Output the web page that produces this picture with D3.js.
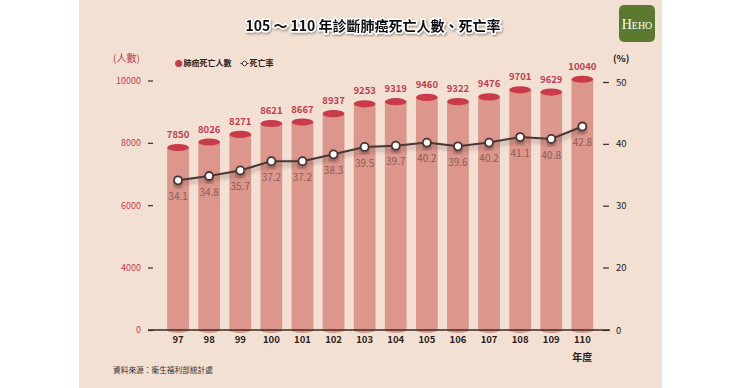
<!DOCTYPE html>
<html>
<head>
<meta charset="utf-8">
<script src="https://cdn.jsdelivr.net/npm/d3@7"></script>
<style>
    body { margin: 0; background: #ffffff; }
    svg { display: block; }
</style>
</head>
<body>
<div id="chart"></div>
<script>
const years = ['97', '98', '99', '100', '101', '102', '103', '104', '105', '106', '107', '108', '109', '110']
const deaths = [7850, 8026, 8271, 8621, 8667, 8937, 9253, 9319, 9460, 9322, 9476, 9701, 9629, 10040]
const rates = [34.1, 34.8, 35.7, 37.2, 37.2, 38.3, 39.5, 39.7, 40.2, 39.6, 40.2, 41.1, 40.8, 42.8]
const deathTicks = [0, 4000, 6000, 8000, 10000]
const rateTicks = [0, 20, 30, 40, 50]

document.addEventListener('DOMContentLoaded', () => {
    draw()
});

function draw() {
    const width = 740
    const height = 388
    const font = '"Noto Sans CJK TC", "Noto Sans", sans-serif'
    const bodyColour = '#dc968b'
    const capColour = '#c93a4b'
    const redText = '#c23c50'
    const lineColour = '#4a3630'

    const svg = d3.select('#chart')
        .append('svg')
        .attr('width', width)
        .attr('height', height)
        .attr('font-family', font)
    const defs = svg.append('defs')

    const shadow = defs.append('filter')
        .attr('id', 'lineShadow')
        .attr('x', '-10%').attr('y', '-50%')
        .attr('width', '120%').attr('height', '200%')
    shadow.append('feDropShadow')
        .attr('dx', 0).attr('dy', 3)
        .attr('stdDeviation', 2)
        .attr('flood-color', '#3a2020')
        .attr('flood-opacity', 0.45)

    const titleShadow = defs.append('filter').attr('id', 'titleShadow')
    titleShadow.append('feDropShadow')
        .attr('dx', 1).attr('dy', 1.5)
        .attr('stdDeviation', 1)
        .attr('flood-color', '#000')
        .attr('flood-opacity', 0.35)

    // background panel
    svg.append('rect')
        .attr('x', 79).attr('y', 0)
        .attr('width', 583).attr('height', height)
        .attr('fill', '#f2e0d2')

    // Scales (axis is broken below 4000 / 20%)
    const x = d3.scaleBand()
        .domain(years)
        .range([162.5, 597.9])
        .paddingInner(0.3)
        .paddingOuter(0.15)
    const yLeft = d3.scaleLinear()
        .domain([0, 4000, 10000])
        .range([330, 267.5, 80.5])
    const yRight = d3.scaleLinear()
        .domain([0, 20, 50])
        .range([330, 267.5, 82])

    const rows = years.map((year, i) => ({ year, deaths: deaths[i], rate: rates[i] }))
    const bw = x.bandwidth()

    // Bars (cylinders)
    const bar = svg.append('g').attr('id', 'bars')
        .selectAll('g')
        .data(rows)
        .enter()
        .append('g')
    bar.append('ellipse')
        .attr('cx', d => x(d.year) + bw / 2)
        .attr('cy', yLeft(0))
        .attr('rx', bw / 2)
        .attr('ry', 3)
        .attr('fill', bodyColour)
    bar.append('rect')
        .attr('x', d => x(d.year))
        .attr('y', d => yLeft(d.deaths))
        .attr('width', bw)
        .attr('height', d => yLeft(0) - yLeft(d.deaths))
        .attr('fill', bodyColour)
    bar.append('ellipse')
        .attr('cx', d => x(d.year) + bw / 2)
        .attr('cy', d => yLeft(d.deaths))
        .attr('rx', bw / 2)
        .attr('ry', 3.6)
        .attr('fill', capColour)
    bar.append('text')
        .attr('x', d => x(d.year) + bw / 2)
        .attr('y', d => yLeft(d.deaths) - 12)
        .attr('text-anchor', 'middle')
        .attr('dominant-baseline', 'middle')
        .attr('font-size', '9.5px')
        .attr('font-weight', 'bold')
        .attr('fill', redText)
        .text(d => d.deaths)

    // Baseline
    svg.append('line')
        .attr('x1', 148).attr('x2', 610)
        .attr('y1', yLeft(0)).attr('y2', yLeft(0))
        .attr('stroke', '#3a2a26')
        .attr('stroke-width', 1.5)

    // Left axis
    const axisL = svg.append('g')
        .attr('transform', 'translate(153, 0)')
        .call(d3.axisLeft(yLeft).tickValues(deathTicks).tickFormat(d3.format('d')).tickSize(5).tickPadding(7))
    axisL.select('.domain').remove()
    axisL.selectAll('.tick line').attr('stroke', '#3a2a26').attr('stroke-width', 1.2)
    axisL.selectAll('.tick text')
        .attr('font-family', font)
        .attr('font-size', '9px')
        .attr('fill', redText)

    // Right axis
    const axisR = svg.append('g')
        .attr('transform', 'translate(603, 0)')
        .call(d3.axisRight(yRight).tickValues(rateTicks).tickSize(6).tickPadding(7))
    axisR.select('.domain').remove()
    axisR.selectAll('.tick line').attr('stroke', '#3a2a26').attr('stroke-width', 1.2)
    axisR.selectAll('.tick text')
        .attr('font-family', font)
        .attr('font-size', '9.5px')
        .attr('fill', '#222')

    // X axis labels
    const axisX = svg.append('g')
        .attr('transform', `translate(0, ${yLeft(0)})`)
        .call(d3.axisBottom(x).tickSize(0).tickPadding(6))
    axisX.select('.domain').remove()
    axisX.selectAll('.tick text')
        .attr('font-family', font)
        .attr('font-size', '9.5px')
        .attr('font-weight', 'bold')
        .attr('fill', '#2a2220')

    // Rate line
    const line = d3.line()
        .x(d => x(d.year) + bw / 2)
        .y(d => yRight(d.rate))
    svg.append('path')
        .datum(rows)
        .attr('d', line)
        .attr('fill', 'none')
        .attr('stroke', lineColour)
        .attr('stroke-width', 2)
        .attr('filter', 'url(#lineShadow)')
    svg.append('g').attr('id', 'rate-points')
        .selectAll('circle')
        .data(rows)
        .enter()
        .append('circle')
        .attr('cx', d => x(d.year) + bw / 2)
        .attr('cy', d => yRight(d.rate))
        .attr('r', 4)
        .attr('fill', '#fff')
        .attr('stroke', lineColour)
        .attr('stroke-width', 1.8)
        .attr('filter', 'url(#lineShadow)')
    svg.append('g').attr('id', 'rate-labels')
        .selectAll('text')
        .data(rows)
        .enter()
        .append('text')
        .attr('x', d => x(d.year) + bw / 2)
        .attr('y', d => yRight(d.rate) + 17)
        .attr('text-anchor', 'middle')
        .attr('dominant-baseline', 'middle')
        .attr('font-size', '10px')
        .attr('fill', '#8a5e56')
        .text(d => d.rate.toFixed(1))

    // Title
    svg.append('text')
        .attr('x', 373)
        .attr('y', 27)
        .attr('text-anchor', 'middle')
        .attr('dominant-baseline', 'middle')
        .attr('font-size', '14px')
        .attr('font-weight', 'bold')
        .attr('fill', '#111')
        .attr('stroke', '#fff')
        .attr('stroke-width', 3)
        .attr('paint-order', 'stroke')
        .attr('filter', 'url(#titleShadow)')
        .text('105 ～ 110 年診斷肺癌死亡人數、死亡率')

    // Logo
    svg.append('rect')
        .attr('x', 619).attr('y', 5)
        .attr('width', 36).attr('height', 37)
        .attr('rx', 5)
        .attr('fill', '#5b7a2f')
    const logo = svg.append('text')
        .attr('x', 637).attr('y', 29)
        .attr('text-anchor', 'middle')
        .attr('font-family', '"Liberation Serif", serif')
        .attr('fill', '#fff')
    logo.append('tspan').attr('font-size', '14px').text('H')
    logo.append('tspan').attr('font-size', '10px').text('EHO')

    // Unit labels
    svg.append('text')
        .attr('x', 113).attr('y', 59)
        .attr('dominant-baseline', 'middle')
        .attr('font-size', '10px')
        .attr('fill', redText)
        .text('(人數)')
    svg.append('text')
        .attr('x', 613).attr('y', 59)
        .attr('dominant-baseline', 'middle')
        .attr('font-size', '9.5px')
        .attr('font-weight', 'bold')
        .attr('fill', '#222')
        .text('(%)')

    // Legend
    const legend = svg.append('g').attr('id', 'legend')
    legend.append('circle')
        .attr('cx', 178.7).attr('cy', 63.5).attr('r', 3.6)
        .attr('fill', capColour)
    legend.append('text')
        .attr('x', 183.5).attr('y', 64)
        .attr('dominant-baseline', 'middle')
        .attr('font-size', '8px')
        .attr('font-weight', 'bold')
        .attr('fill', '#2a2220')
        .text('肺癌死亡人數')
    legend.append('line')
        .attr('x1', 240.5).attr('x2', 248.5)
        .attr('y1', 63.5).attr('y2', 63.5)
        .attr('stroke', lineColour).attr('stroke-width', 1.2)
    legend.append('circle')
        .attr('cx', 244.5).attr('cy', 63.5).attr('r', 2.2)
        .attr('fill', '#fff')
        .attr('stroke', lineColour).attr('stroke-width', 1)
    legend.append('text')
        .attr('x', 249.5).attr('y', 64)
        .attr('dominant-baseline', 'middle')
        .attr('font-size', '8px')
        .attr('font-weight', 'bold')
        .attr('fill', '#2a2220')
        .text('死亡率')

    // Footer
    svg.append('text')
        .attr('x', x('110') + bw / 2)
        .attr('y', 358)
        .attr('text-anchor', 'middle')
        .attr('dominant-baseline', 'middle')
        .attr('font-size', '10px')
        .attr('font-weight', 'bold')
        .attr('fill', '#2a2220')
        .text('年度')
    svg.append('text')
        .attr('x', 113).attr('y', 371)
        .attr('dominant-baseline', 'middle')
        .attr('font-size', '7.7px')
        .attr('fill', '#333')
        .text('資料來源：衛生福利部統計處')
}
</script>
</body>
</html>
